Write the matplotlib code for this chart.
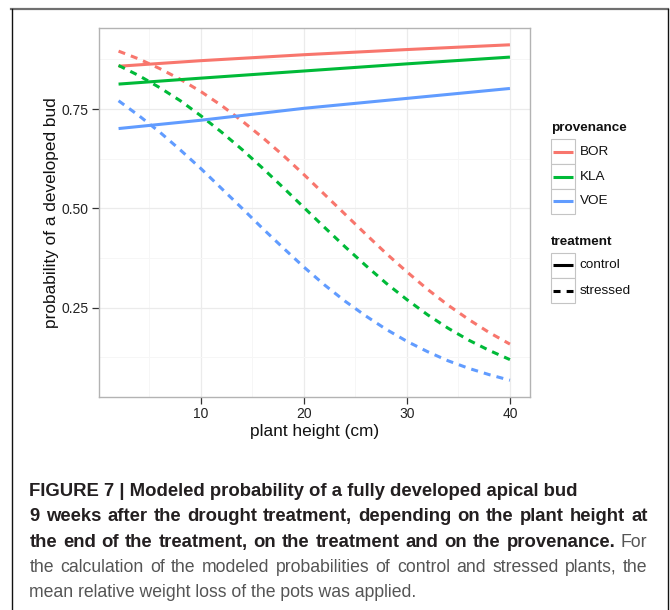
import matplotlib.pyplot as plt
from matplotlib.patches import Rectangle

plt.rcParams['font.family'] = ['Liberation Sans', 'DejaVu Sans']

# plant heights (cm) at which the modeled curves were read
heights = [2, 4, 6, 8, 10, 12, 14, 16, 18, 20,
           22, 24, 26, 28, 30, 32, 34, 36, 38, 40]
control_heights = [2, 10, 20, 30, 40]

provenances = ['BOR', 'KLA', 'VOE']
prov_colors = ['#F8766D', '#00BA38', '#619CFF']
treatments = ['control', 'stressed']

# control plants (almost straight lines)
control_bor = [0.858, 0.872, 0.887, 0.900, 0.912]
control_kla = [0.813, 0.828, 0.846, 0.864, 0.881]
control_voe = [0.701, 0.722, 0.752, 0.777, 0.802]

# stressed plants
stressed_bor = [0.896, 0.876, 0.852, 0.825, 0.794, 0.759, 0.720, 0.678, 0.633, 0.585,
                0.535, 0.485, 0.435, 0.386, 0.340, 0.296, 0.256, 0.220, 0.187, 0.158]
stressed_kla = [0.860, 0.834, 0.804, 0.771, 0.733, 0.692, 0.648, 0.601, 0.552, 0.502,
                0.452, 0.403, 0.356, 0.311, 0.270, 0.232, 0.198, 0.168, 0.142, 0.119]
stressed_voe = [0.771, 0.733, 0.692, 0.647, 0.600, 0.550, 0.500, 0.449, 0.400, 0.352,
                0.307, 0.266, 0.229, 0.195, 0.165, 0.139, 0.116, 0.097, 0.081, 0.067]

control = [control_bor, control_kla, control_voe]
stressed = [stressed_bor, stressed_kla, stressed_voe]

LW = 2.2
DASH = (2.3, 2.0)

fig = plt.figure(figsize=(6.7, 6.1), dpi=100)
ax = fig.add_axes([99 / 670, 1 - 397 / 610, 430.5 / 670, 369 / 610])

for c_vals, s_vals, col in zip(control, stressed, prov_colors):
    ax.plot(control_heights, c_vals, color=col, lw=LW, solid_capstyle='butt')
    ax.plot(heights, s_vals, color=col, lw=LW, dashes=DASH, dash_capstyle='butt')

ax.set_xlim(0.1, 41.9)
ax.set_ylim(0.0248, 0.9543)
ax.set_xticks([10, 20, 30, 40])
ax.set_xticks([5, 15, 25, 35], minor=True)
ax.set_yticks([0.25, 0.50, 0.75])
ax.set_yticklabels(['0.25', '0.50', '0.75'])
ax.set_yticks([0.125, 0.375, 0.625, 0.875], minor=True)
ax.grid(True, which='major', color='#EBEBEB', lw=0.9)
ax.grid(True, which='minor', color='#F6F6F6', lw=0.7)
ax.set_axisbelow(True)
ax.tick_params(which='major', length=5, width=0.9, color='#333333',
               labelsize=10, labelcolor='#222222', pad=2.5)
ax.tick_params(which='minor', length=0)
for s in ax.spines.values():
    s.set_color('#B3B3B3')
    s.set_linewidth(1.0)
ax.set_xlabel('plant height (cm)', fontsize=12.4, color='#111111', labelpad=2)
ax.set_ylabel('probability of a developed bud', fontsize=12.4, color='#111111', labelpad=2)

# overlay in pixel units for the legend, frame and caption
ov = fig.add_axes([0, 0, 1, 1])
ov.set_xlim(0, 670)
ov.set_ylim(610, 0)
ov.axis('off')

ov.plot([11, 668], [9.2, 9.2], color='#707070', lw=1.6, clip_on=False)
ov.plot([11.7, 11.7], [9.2, 610], color='#111111', lw=1.0, clip_on=False)
ov.plot([667.8, 667.8], [9.2, 610], color='#111111', lw=1.0, clip_on=False)

# legend: provenance
key_x, key_w = 551, 24
ov.text(key_x, 128.3, 'provenance', fontsize=9.7, fontweight='bold',
        va='center', ha='left', color='#111111')
for i, (name, col) in enumerate(zip(provenances, prov_colors)):
    y0 = 139.3 + i * 24.8
    ov.add_patch(Rectangle((key_x, y0), key_w, 24.8, fc='white', ec='#C4C4C4', lw=0.8))
    ov.plot([552.7, 573.3], [y0 + 12.4] * 2, color=col, lw=LW, solid_capstyle='butt')
    ov.text(579.5, y0 + 12.4, name, fontsize=9.7, va='center', ha='left', color='#111111')

# legend: treatment
ov.text(key_x, 241.7, 'treatment', fontsize=9.7, fontweight='bold',
        va='center', ha='left', color='#111111')
for i, name in enumerate(treatments):
    y0 = 252.7 + i * 25.3
    ov.add_patch(Rectangle((key_x, y0), key_w, 25.3, fc='white', ec='#C4C4C4', lw=0.8))
    if name == 'control':
        ov.plot([552.7, 573.3], [y0 + 12.6] * 2, color='black', lw=LW, solid_capstyle='butt')
    else:
        ov.plot([552.7, 573.3], [y0 + 12.6] * 2, color='black', lw=LW,
                dashes=DASH, dash_capstyle='butt')
    ov.text(579.5, y0 + 12.6, name, fontsize=9.7, va='center', ha='left', color='#111111')

# caption (justified like the journal layout)
bold_kw = dict(fontsize=13.35, fontweight='bold', color='#231F20', ha='left', va='baseline')
reg_kw = dict(fontsize=12.7, color='#555555', ha='left', va='baseline')
x_left, x_right = 29.3, 647.5

fig.canvas.draw()
renderer = fig.canvas.get_renderer()


def justified(y, pieces):
    arts = [ov.text(0, y, w, **kw) for w, kw in pieces]
    widths = [a.get_window_extent(renderer).width for a in arts]
    gap = (x_right - x_left - sum(widths)) / (len(arts) - 1)
    x = x_left
    for a, w in zip(arts, widths):
        a.set_x(x)
        x += w + gap


ov.text(x_left, 496, 'FIGURE 7 | Modeled probability of a fully developed apical bud', **bold_kw)
line2 = '9 weeks after the drought treatment, depending on the plant height at'
justified(521.3, [(w, bold_kw) for w in line2.split()])
line3 = 'the end of the treatment, on the treatment and on the provenance.'
justified(546.6, [(w, bold_kw) for w in line3.split()] + [('For', reg_kw)])
line4 = 'the calculation of the modeled probabilities of control and stressed plants, the'
justified(572, [(w, reg_kw) for w in line4.split()])
ov.text(x_left, 597.3, 'mean relative weight loss of the pots was applied.', **reg_kw)

fig.savefig('out.png', dpi=100)
